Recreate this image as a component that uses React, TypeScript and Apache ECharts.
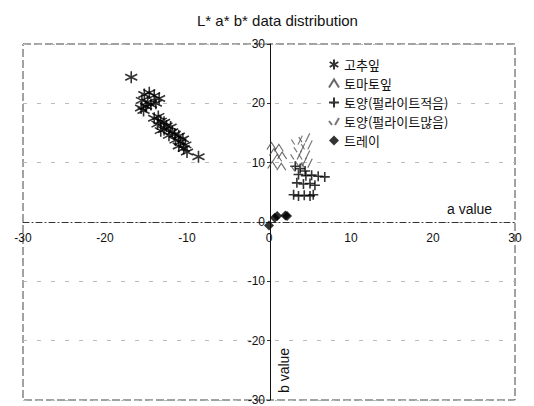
import React, { useEffect, useRef } from "react";
import * as echarts from "echarts";

// a* (x), b* (y) values per series
const pepperLeaf: [number, number][] = [
  [-16.8, 24.4],
  [-15.2, 21.5], [-14.6, 21.8], [-14.0, 21.3], [-13.4, 20.8], [-15.5, 20.5],
  [-14.8, 20.2], [-15.0, 19.5], [-15.6, 19.2], [-14.4, 19.8], [-13.8, 20.0],
  [-15.3, 18.8],
  [-14.0, 17.5], [-13.5, 17.8], [-13.2, 17.0], [-12.8, 16.8], [-13.6, 16.5],
  [-12.5, 16.2], [-12.0, 16.0], [-12.8, 15.6], [-13.2, 15.4], [-11.8, 15.2],
  [-11.5, 14.8], [-12.2, 14.6], [-11.0, 14.5], [-11.4, 13.8], [-10.8, 13.5],
  [-10.5, 14.0], [-10.2, 13.0], [-11.0, 12.8], [-10.4, 12.4], [-10.0, 11.8],
  [-8.6, 11.0],
];
const tomatoLeaf: [number, number][] = [
  [1.2, 12.5], [0.6, 11.8], [1.0, 10.8], [0.4, 9.6], [1.5, 9.3], [0.3, 12.8],
  [1.6, 11.2],
];
const soilLowPerlite: [number, number][] = [
  [3.2, 9.4], [3.8, 9.0], [4.4, 8.6], [3.6, 8.0], [4.5, 7.8], [5.2, 7.9],
  [6.0, 7.7], [6.8, 7.6], [3.4, 6.6], [4.2, 6.4], [5.0, 6.5], [5.6, 6.2],
  [3.0, 4.6], [3.6, 4.4], [4.3, 4.5], [5.0, 4.4], [5.4, 4.6],
];
const soilHighPerlite: [number, number][] = [
  [3.4, 13.8], [4.3, 14.2], [4.6, 13.0], [3.7, 12.5], [3.3, 11.3], [4.3, 11.3],
  [3.9, 10.1], [4.6, 9.9], [3.4, 9.3],
];
const tray: [number, number][] = [
  [0.0, -0.6], [0.7, 0.7], [1.0, 1.0], [2.0, 1.1], [2.2, 1.0],
];

const seriesNames = ["고추잎", "토마토잎", "토양(펄라이트적음)", "토양(펄라이트많음)", "트레이"];
const axisMin = -30;
const axisMax = 30;
const axisStep = 10;

const asterisk = "path://M0,-10 L0,10 M-8.66,-5 L8.66,5 M-8.66,5 L8.66,-5";
const caret = "path://M-5,4 L0,-4 L5,4";
const plus = "path://M0,-6 L0,6 M-6,0 L6,0";
const check = "path://M-5,-1 L-2,3 M1,3 L5,-4";

export default function App() {
  const ref = useRef<HTMLDivElement>(null);
  useEffect(() => {
    document.body.style.margin = "0";
    const chart = echarts.init(ref.current!, null, { renderer: "svg" });
    const font = "'Liberation Sans', Arial, sans-serif";
    const kfont = "'Noto Sans CJK KR', sans-serif";
    const stroke = (c: string, w: number) => ({ color: "transparent", borderColor: c, borderWidth: w });
    chart.setOption({
      animation: false,
      backgroundColor: "#fff",
      title: {
        text: "L* a* b* data distribution",
        left: 192,
        top: 8,
        textStyle: { fontFamily: font, fontSize: 15, fontWeight: "normal", color: "#111" },
      },
      legend: {
        orient: "vertical",
        left: 323,
        top: 53,
        itemGap: 6,
        itemWidth: 10,
        itemHeight: 10,
        textStyle: { fontFamily: kfont, fontSize: 13, color: "#111" },
        data: seriesNames,
      },
      grid: { left: 23, right: 19, top: 44, bottom: 6, outerBoundsMode: "none" },
      xAxis: {
        type: "value",
        min: axisMin,
        max: axisMax,
        interval: axisStep,
        offset: -178,
        axisLine: { onZero: false, lineStyle: { color: "#333", type: [6, 3, 1, 3] } },
        axisTick: { show: false },
        axisLabel: { color: "#111", fontFamily: font, fontSize: 12, margin: 10 },
        splitLine: { show: false },
      },
      yAxis: {
        type: "value",
        min: axisMin,
        max: axisMax,
        interval: axisStep,
        offset: -247,
        axisLine: { onZero: false, lineStyle: { color: "#111" } },
        axisTick: { show: true, length: 3, lineStyle: { color: "#333" } },
        axisLabel: { color: "#111", fontFamily: font, fontSize: 12, margin: 5 },
        splitLine: { show: true, lineStyle: { color: "#bbb", type: [4, 10] } },
      },
      graphic: [
        {
          type: "rect",
          shape: { x: 23, y: 44, width: 492, height: 356 },
          style: { fill: "none", stroke: "#444", lineWidth: 1, lineDash: [8, 3] },
          silent: true,
          z: 0,
        },
        {
          type: "text",
          x: 447,
          y: 202,
          style: { text: "a value", fontFamily: font, fontSize: 14, fill: "#111" },
        },
        {
          type: "text",
          x: 277,
          y: 393,
          rotation: Math.PI / 2,
          style: { text: "b value", fontFamily: font, fontSize: 14, fill: "#111" },
        },
      ],
      series: [
        {
          name: seriesNames[0],
          type: "scatter",
          data: pepperLeaf,
          symbol: asterisk,
          symbolSize: 12,
          itemStyle: stroke("#000", 1.6),
        },
        {
          name: seriesNames[1],
          type: "scatter",
          data: tomatoLeaf,
          symbol: caret,
          symbolSize: [9, 7],
          itemStyle: stroke("#444", 1),
        },
        {
          name: seriesNames[2],
          type: "scatter",
          data: soilLowPerlite,
          symbol: plus,
          symbolSize: 10,
          itemStyle: stroke("#000", 1.6),
        },
        {
          name: seriesNames[3],
          type: "scatter",
          data: soilHighPerlite,
          symbol: check,
          symbolSize: [11, 9],
          itemStyle: stroke("#555", 1.1),
        },
        {
          name: seriesNames[4],
          type: "scatter",
          data: tray,
          symbol: "diamond",
          symbolSize: 10,
          itemStyle: { color: "#000" },
        },
      ],
    });
    return () => chart.dispose();
  }, []);
  return <div ref={ref} style={{ width: 534, height: 406 }} />;
}
